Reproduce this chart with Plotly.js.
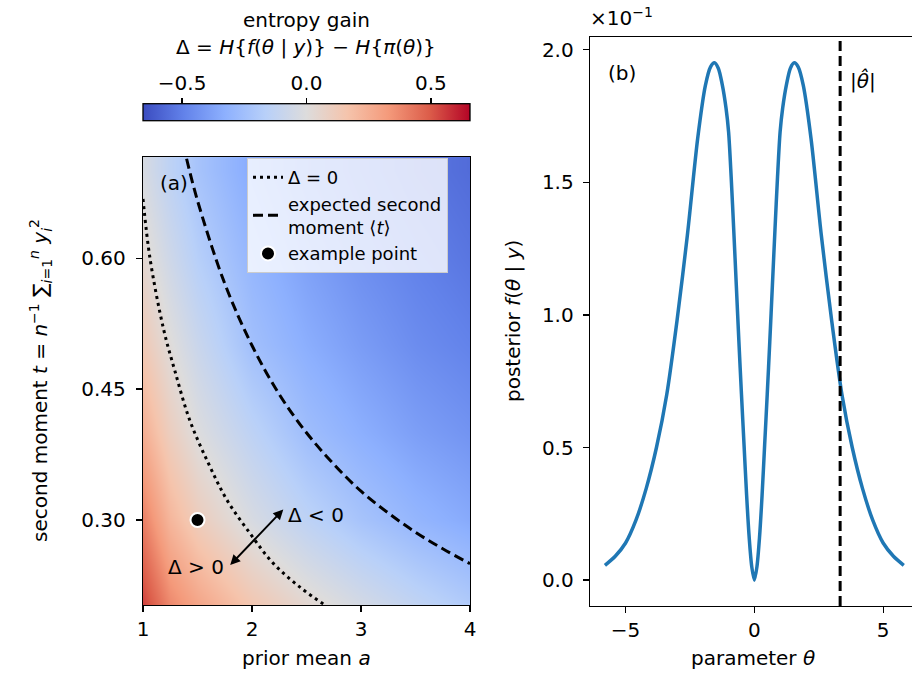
<!DOCTYPE html>
<html>
<head>
<meta charset="utf-8">
<script src="https://cdn.plot.ly/plotly-3.0.1.min.js"></script>
<style>html,body{margin:0;padding:0;background:#fff;}#chart{width:912px;height:680px;}</style>
</head>
<body>
<div id="chart"></div>
<script>
// ---------- Panel (a): entropy gain map ----------
const priorMean = [1.0, 1.25, 1.5, 2.0, 2.5, 3.0, 3.5, 4.0];
const secondMoment = [0.2, 0.3, 0.4, 0.5, 0.6, 0.7];
// entropy gain Δ, rows follow secondMoment, columns follow priorMean
const entropyGain = [
  [0.55, 0.38, 0.29, 0.15, 0.045, -0.04, -0.12, -0.19],
  [0.40, 0.22, 0.11, -0.03, -0.14, -0.23, -0.30, -0.35],
  [0.25, 0.10, -0.005, -0.14, -0.26, -0.33, -0.39, -0.43],
  [0.13, 0.01, -0.09, -0.25, -0.335, -0.40, -0.455, -0.49],
  [0.04, -0.07, -0.17, -0.30, -0.385, -0.45, -0.495, -0.53],
  [-0.03, -0.14, -0.23, -0.35, -0.43, -0.485, -0.53, -0.56]
];
const colorLimit = 0.657;
const colorTicks = [-0.5, 0.0, 0.5];

// Δ = 0 contour
const zeroA = [1.00, 1.064, 1.19, 1.29, 1.43, 1.60, 1.77, 1.98, 2.19, 2.44, 2.70];
const zeroT = [0.668, 0.60, 0.518, 0.472, 0.414, 0.365, 0.323, 0.285, 0.251, 0.223, 0.200];

// expected second moment <t>
const expA = [1.40, 1.50, 1.75, 2.00, 2.25, 2.50, 2.75, 3.00, 3.25, 3.50, 3.75, 4.00];
const expT = [0.714, 0.666, 0.571, 0.500, 0.444, 0.400, 0.364, 0.333, 0.308, 0.286, 0.267, 0.250];

// example point
const exampleA = [1.5];
const exampleT = [0.3];

// ---------- Panel (b): posterior (values in units of 10^-1) ----------
const theta = [-5.8, -5.4, -5.0, -4.6, -4.2, -3.8, -3.4, -3.0, -2.6, -2.2, -1.9, -1.7, -1.55, -1.4, -1.25, -1.1, -1.0, -0.9, -0.8, -0.7, -0.6, -0.5, -0.4, -0.3, -0.2, -0.1, 0,
               0.1, 0.2, 0.3, 0.4, 0.5, 0.6, 0.7, 0.8, 0.9, 1.0, 1.1, 1.25, 1.4, 1.55, 1.7, 1.9, 2.2, 2.6, 3.0, 3.4, 3.8, 4.2, 4.6, 5.0, 5.4, 5.8];
const posterior = [0.056, 0.09, 0.14, 0.225, 0.345, 0.50, 0.70, 0.98, 1.30, 1.665, 1.865, 1.935, 1.95, 1.93, 1.87, 1.78, 1.69, 1.52, 1.32, 1.11, 0.90, 0.70, 0.51, 0.32, 0.16, 0.05, 0.0,
                   0.05, 0.16, 0.32, 0.51, 0.70, 0.90, 1.11, 1.32, 1.52, 1.69, 1.78, 1.87, 1.93, 1.95, 1.935, 1.865, 1.665, 1.30, 0.98, 0.70, 0.50, 0.345, 0.225, 0.14, 0.09, 0.056];
const thetaHatAbs = 3.33;

// ---------- styling ----------
const FONT = 'DejaVu Sans, Liberation Sans, sans-serif';
const coolwarm = [
  [0.0, '#3b4cc0'], [0.125, '#6282ea'], [0.25, '#8db0fe'], [0.375, '#b8d0f9'],
  [0.5, '#dddcdc'], [0.625, '#f5c4ac'], [0.75, '#f49a7b'], [0.875, '#dc5d4a'], [1.0, '#b40426']
];
const W = 912, H = 680;
const px = v => v / W;
const py = v => 1 - v / H;

const traces = [
  {
    type: 'heatmap', x: priorMean, y: secondMoment, z: entropyGain,
    colorscale: coolwarm, zmin: -colorLimit, zmax: colorLimit, zsmooth: 'best',
    xaxis: 'x', yaxis: 'y', showlegend: false, hoverinfo: 'skip',
    colorbar: {
      orientation: 'h', x: px(143), xanchor: 'left', y: py(122), yanchor: 'bottom',
      len: 327, lenmode: 'pixels', thickness: 17, thicknessmode: 'pixels',
      xpad: 0, ypad: 0, outlinewidth: 1.3, outlinecolor: '#000',
      ticks: '', showticklabels: false
    }
  },
  {
    type: 'scatter', mode: 'lines', x: zeroA, y: zeroT, name: 'Δ = 0',
    line: {color: '#000', width: 3, dash: '3px,4px', shape: 'spline'},
    xaxis: 'x', yaxis: 'y'
  },
  {
    type: 'scatter', mode: 'lines', x: expA, y: expT,
    name: 'expected second<br>moment ⟨<i>t</i>⟩',
    line: {color: '#000', width: 3, dash: '10px,5px', shape: 'spline'},
    xaxis: 'x', yaxis: 'y'
  },
  {
    type: 'scatter', mode: 'markers', x: exampleA, y: exampleT, name: 'example point',
    marker: {color: '#000', size: 14, line: {color: '#fff', width: 2}},
    xaxis: 'x', yaxis: 'y'
  },
  {
    type: 'scatter', mode: 'lines', x: theta, y: posterior, showlegend: false,
    line: {color: '#1f77b4', width: 3.5, shape: 'spline', smoothing: 0.8},
    xaxis: 'x2', yaxis: 'y2'
  },
  // carrier for the colour-bar tick axis
  {
    type: 'scatter', mode: 'markers', x: [null], y: [null], showlegend: false,
    hoverinfo: 'skip', xaxis: 'x3', yaxis: 'y3'
  }
];

const axisBase = {
  showline: true, linecolor: '#000', linewidth: 1.3, mirror: true,
  ticks: 'outside', ticklen: 6, tickwidth: 1.3, tickcolor: '#000',
  showgrid: false, zeroline: false,
  tickfont: {family: FONT, size: 20, color: '#000'}
};

const layout = {
  width: W, height: H,
  margin: {l: 0, r: 0, t: 0, b: 0},
  paper_bgcolor: '#fff', plot_bgcolor: 'rgba(0,0,0,0)',
  font: {family: FONT, size: 20, color: '#000'},
  xaxis: Object.assign({}, axisBase, {domain: [px(143), px(470)], range: [1, 4], tickvals: [1, 2, 3, 4], anchor: 'y'}),
  yaxis: Object.assign({}, axisBase, {domain: [py(605), py(157)], range: [0.2026, 0.716], tickvals: [0.30, 0.45, 0.60], tickformat: '.2f', anchor: 'x', ticklabelstandoff: 6}),
  xaxis2: Object.assign({}, axisBase, {domain: [px(590), 1], range: [-6.38, 6.12], tickvals: [-5, 0, 5], anchor: 'y2'}),
  yaxis2: Object.assign({}, axisBase, {domain: [py(606), py(37)], range: [-0.0975, 2.0475], tickvals: [0, 0.5, 1.0, 1.5, 2.0], tickformat: '.1f', anchor: 'x2', mirror: false, ticklabelstandoff: 5}),
  xaxis3: Object.assign({}, axisBase, {domain: [px(143), px(470)], range: [-colorLimit, colorLimit], tickvals: colorTicks,
                                       tickformat: '.1f', side: 'top', anchor: 'y3', showline: false, mirror: false, fixedrange: true}),
  yaxis3: {domain: [py(122), py(105)], range: [0, 1], visible: false, anchor: 'x3', fixedrange: true},
  showlegend: true,
  legend: {
    x: px(247), y: py(158), xanchor: 'left', yanchor: 'top',
    bgcolor: 'rgba(255,255,255,0.8)', bordercolor: '#cccccc', borderwidth: 1,
    font: {family: FONT, size: 18, color: '#000'}, tracegroupgap: 2
  },
  shapes: [
    {type: 'line', xref: 'x2', yref: 'y2 domain', x0: thetaHatAbs, x1: thetaHatAbs, y0: 0, y1: 1,
     line: {color: '#000', width: 3, dash: '10px,5px'}}
  ],
  annotations: [
    {xref: 'paper', yref: 'paper', x: px(306), y: py(20), text: 'entropy gain', showarrow: false,
     xanchor: 'center', yanchor: 'middle', font: {size: 20}},
    {xref: 'paper', yref: 'paper', x: px(306), y: py(47),
     text: 'Δ = <i>H</i>{<i>f</i>(<i>θ</i> | <i>y</i>)} − <i>H</i>{<i>π</i>(<i>θ</i>)}', showarrow: false,
     xanchor: 'center', yanchor: 'middle', font: {size: 20}},
    {xref: 'paper', yref: 'paper', x: px(306), y: py(658), text: 'prior mean <i>a</i>', showarrow: false,
     xanchor: 'center', yanchor: 'middle', font: {size: 20}},
    {xref: 'paper', yref: 'paper', x: px(40), y: py(381),
     text: 'second moment <i>t</i> = <i>n</i><sup>−1</sup> ∑<sub><i>i</i>=1</sub><sup><i>n</i></sup> <i>y</i><sub><i>i</i></sub><sup>2</sup>',
     showarrow: false, textangle: -90, xanchor: 'center', yanchor: 'middle', font: {size: 20}},
    {xref: 'paper', yref: 'paper', x: px(753), y: py(658), text: 'parameter <i>θ</i>', showarrow: false,
     xanchor: 'center', yanchor: 'middle', font: {size: 20}},
    {xref: 'paper', yref: 'paper', x: px(513), y: py(321), text: 'posterior <i>f</i>(<i>θ</i> | <i>y</i>)',
     showarrow: false, textangle: -90, xanchor: 'center', yanchor: 'middle', font: {size: 20}},
    {xref: 'paper', yref: 'paper', x: px(174), y: py(183), text: '(a)', showarrow: false,
     xanchor: 'center', yanchor: 'middle', font: {size: 20}},
    {xref: 'paper', yref: 'paper', x: px(622), y: py(73), text: '(b)', showarrow: false,
     xanchor: 'center', yanchor: 'middle', font: {size: 20}},
    {xref: 'paper', yref: 'paper', x: px(588), y: py(17), text: '×10<sup>−1</sup>', showarrow: false,
     xanchor: 'left', yanchor: 'middle', font: {size: 20}},
    {xref: 'paper', yref: 'paper', x: px(848), y: py(80), text: '|<i>θ̂</i>|', showarrow: false,
     xanchor: 'left', yanchor: 'middle', font: {size: 20}},
    {xref: 'x', yref: 'y', x: 1.486, y: 0.2462, text: 'Δ > 0', showarrow: false,
     xanchor: 'center', yanchor: 'middle', font: {size: 20}},
    {xref: 'x', yref: 'y', x: 2.587, y: 0.3057, text: 'Δ < 0', showarrow: false,
     xanchor: 'center', yanchor: 'middle', font: {size: 20}},
    {xref: 'x', yref: 'y', axref: 'x', ayref: 'y', x: 1.80, y: 0.2485, ax: 2.30, ay: 0.3137,
     text: '', showarrow: true, arrowhead: 2, startarrowhead: 2, arrowside: 'end+start',
     arrowwidth: 2, arrowsize: 1, startarrowsize: 1, arrowcolor: '#000', standoff: 0, startstandoff: 0}
  ]
};

Plotly.newPlot('chart', traces, layout, {displayModeBar: false, staticPlot: true});
</script>
</body>
</html>
